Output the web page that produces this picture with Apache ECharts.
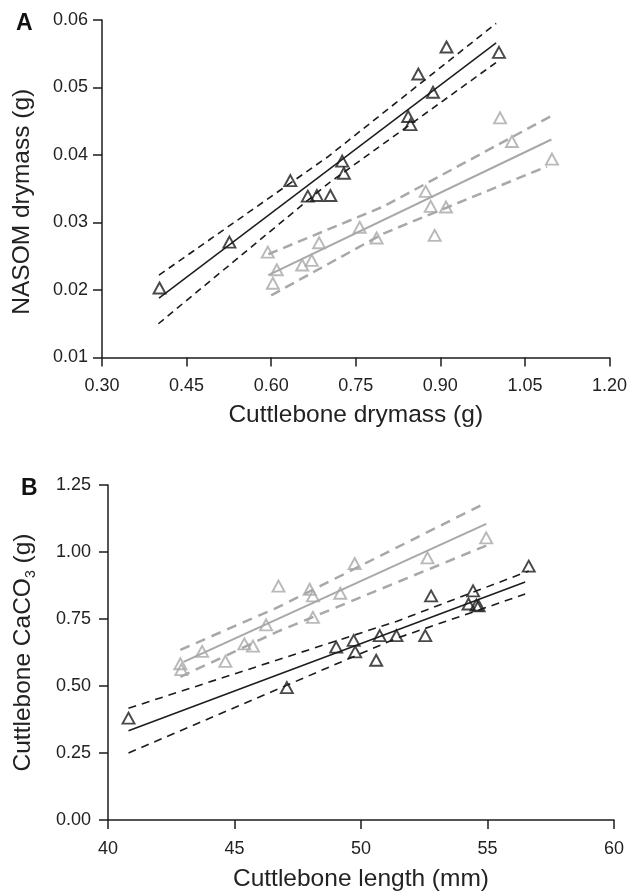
<!DOCTYPE html>
<html><head><meta charset="utf-8">
<script src="https://cdn.jsdelivr.net/npm/echarts@6/dist/echarts.min.js"></script>
<style>html,body{margin:0;padding:0;background:#fff}#c{width:630px;height:893px}</style>
</head><body><div id="c"></div>
<script>
// ---------- Panel A data ----------
const aXTicks = [0.30, 1.20, 0.15];
const aYTicks = [0.01, 0.06, 0.01];
const aBlackX = [0.402, 0.526, 0.634, 0.665, 0.681, 0.705, 0.726, 0.729, 0.843, 0.847, 0.861, 0.887, 0.911, 1.004];
const aBlackY = [0.0203, 0.0271, 0.0362, 0.0339, 0.0340, 0.0340, 0.0391, 0.0373, 0.0457, 0.0445, 0.0520, 0.0493, 0.0560, 0.0552];
const aGrayX = [0.594, 0.603, 0.610, 0.655, 0.672, 0.685, 0.757, 0.787, 0.874, 0.883, 0.890, 0.910, 1.006, 1.027, 1.098];
const aGrayY = [0.0256, 0.0210, 0.0230, 0.0237, 0.0244, 0.0270, 0.0293, 0.0277, 0.0346, 0.0324, 0.0281, 0.0323, 0.0455, 0.0420, 0.0394];
const aBlackFitX = [0.401, 0.999], aBlackFitY = [0.0188, 0.0566];
const aBlackUpX = [0.401, 0.70, 0.999], aBlackUpY = [0.0222, 0.0397, 0.0595];
const aBlackLoX = [0.400, 0.70, 0.999], aBlackLoY = [0.0150, 0.0357, 0.0537];
const aGrayFitX = [0.595, 1.097], aGrayFitY = [0.0222, 0.0423];
const aGrayUpX = [0.595, 0.80, 1.097], aGrayUpY = [0.0253, 0.0324, 0.0458];
const aGrayLoX = [0.600, 0.80, 1.089], aGrayLoY = [0.0192, 0.0284, 0.0383];

// ---------- Panel B data ----------
const bXTicks = [40, 60, 5];
const bYTicks = [0, 1.25, 0.25];
const bBlackX = [40.81, 47.07, 49.02, 49.71, 49.77, 50.60, 50.74, 51.40, 52.54, 52.77, 54.25, 54.43, 54.56, 54.65, 56.63];
const bBlackY = [0.380, 0.494, 0.645, 0.670, 0.627, 0.596, 0.688, 0.688, 0.688, 0.836, 0.806, 0.855, 0.802, 0.799, 0.947];
const bGrayX = [42.86, 42.90, 43.72, 44.64, 45.39, 45.73, 46.25, 46.74, 47.97, 48.10, 48.10, 49.18, 49.75, 52.63, 54.95];
const bGrayY = [0.583, 0.561, 0.629, 0.592, 0.657, 0.649, 0.728, 0.873, 0.861, 0.836, 0.756, 0.846, 0.957, 0.978, 1.053];
const bBlackFitX = [40.81, 56.49], bBlackFitY = [0.333, 0.888];
const bBlackUpX = [40.81, 51.4, 56.63], bBlackUpY = [0.417, 0.741, 0.929];
const bBlackLoX = [40.81, 51.4, 56.49], bBlackLoY = [0.250, 0.678, 0.843];
const bGrayFitX = [42.99, 54.95], bGrayFitY = [0.590, 1.105];
const bGrayUpX = [42.86, 46.7, 54.78], bGrayUpY = [0.635, 0.793, 1.176];
const bGrayLoX = [42.86, 46.7, 54.95], bGrayLoY = [0.534, 0.703, 1.024];

const BLACK = '#1c1c1c', GRAY = '#a8a8a8';
const FONT = 'Liberation Sans, Arial, Helvetica, sans-serif';
const NAME_FS = 24.5;
const zip = (xs, ys) => xs.map((x, i) => [x, ys[i]]);

function axis(t, gi, dec, name, extra) {
  return Object.assign({
    type: 'value', gridIndex: gi, min: t[0], max: t[1], interval: t[2],
    splitLine: { show: false },
    axisLine: { show: true, onZero: false, lineStyle: { color: BLACK, width: 1.5 } },
    axisTick: { show: true, length: 9, lineStyle: { color: BLACK, width: 1.5 } },
    axisLabel: { fontSize: 18, color: '#222', fontFamily: FONT, formatter: v => v.toFixed(dec) },
    name: name, nameLocation: 'middle',
    nameTextStyle: { fontSize: NAME_FS, color: '#222', fontFamily: FONT }
  }, extra || {});
}
function pts(xs, ys, col, xi) {
  return { type: 'scatter', xAxisIndex: xi, yAxisIndex: xi, data: zip(xs, ys),
    symbol: 'triangle', symbolSize: [12, 11], z: 5,
    itemStyle: { color: 'rgba(0,0,0,0)', borderColor: col, borderWidth: 1.9 } };
}
function line(xs, ys, col, xi, w, type) {
  return { type: 'line', xAxisIndex: xi, yAxisIndex: xi, data: zip(xs, ys),
    showSymbol: false, symbol: 'none', silent: true, z: 3,
    lineStyle: { color: col, width: w, type: type } };
}

const chart = echarts.init(document.getElementById('c'));
chart.setOption({
  animation: false,
  backgroundColor: '#fff',
  grid: [
    { left: 102, top: 20, width: 508, height: 337.5 },
    { left: 107.5, top: 485, width: 506.5, height: 337.5 }
  ],
  xAxis: [
    axis(aXTicks, 0, 2, 'Cuttlebone drymass (g)', { nameGap: 45, axisLabel: { fontSize: 18, color: '#222', fontFamily: FONT, margin: 20, formatter: v => v.toFixed(2) } }),
    axis(bXTicks, 1, 0, 'Cuttlebone length (mm)', { nameGap: 47, axisLabel: { fontSize: 18, color: '#222', fontFamily: FONT, margin: 20, formatter: v => v.toFixed(0) } })
  ],
  yAxis: [
    axis(aYTicks, 0, 2, 'NASOM drymass (g)', { nameGap: 67, axisLabel: { fontSize: 18, color: '#222', fontFamily: FONT, margin: 14, formatter: v => v.toFixed(2) },
      nameTextStyle: { fontSize: NAME_FS, color: '#222', fontFamily: FONT, padding: [0, 26, 0, 0] } }),
    axis(bYTicks, 1, 2, 'Cuttlebone CaCO{sub|3} (g)', { nameGap: 70, axisLabel: { fontSize: 18, color: '#222', fontFamily: FONT, margin: 17, formatter: v => v.toFixed(2) },
      nameTextStyle: { fontSize: NAME_FS, color: '#222', fontFamily: FONT, lineHeight: 30,
        rich: { sub: { fontSize: 14, color: '#222', fontFamily: FONT, verticalAlign: 'bottom', lineHeight: 30 } } } })
  ],
  graphic: [
    { type: 'text', left: 16, top: 12, style: { text: 'A', fontSize: 23, fontWeight: 'bold', fill: '#111', fontFamily: FONT } },
    { type: 'text', left: 21, top: 477, style: { text: 'B', fontSize: 23, fontWeight: 'bold', fill: '#111', fontFamily: FONT } }
  ],
  series: [
    line(aBlackFitX, aBlackFitY, BLACK, 0, 1.5, 'solid'),
    line(aBlackUpX, aBlackUpY, BLACK, 0, 1.6, [7, 5]),
    line(aBlackLoX, aBlackLoY, BLACK, 0, 1.6, [7, 5]),
    line(aGrayFitX, aGrayFitY, GRAY, 0, 2, 'solid'),
    line(aGrayUpX, aGrayUpY, GRAY, 0, 2.5, [10, 6]),
    line(aGrayLoX, aGrayLoY, GRAY, 0, 2.5, [10, 6]),
    pts(aBlackX, aBlackY, BLACK, 0),
    pts(aGrayX, aGrayY, GRAY, 0),
    line(bBlackFitX, bBlackFitY, BLACK, 1, 1.5, 'solid'),
    line(bBlackUpX, bBlackUpY, BLACK, 1, 1.6, [8, 6]),
    line(bBlackLoX, bBlackLoY, BLACK, 1, 1.6, [8, 6]),
    line(bGrayFitX, bGrayFitY, GRAY, 1, 2, 'solid'),
    line(bGrayUpX, bGrayUpY, GRAY, 1, 2.5, [10, 7]),
    line(bGrayLoX, bGrayLoY, GRAY, 1, 2.5, [10, 7]),
    pts(bBlackX, bBlackY, BLACK, 1),
    pts(bGrayX, bGrayY, GRAY, 1)
  ]
});
</script></body></html>
